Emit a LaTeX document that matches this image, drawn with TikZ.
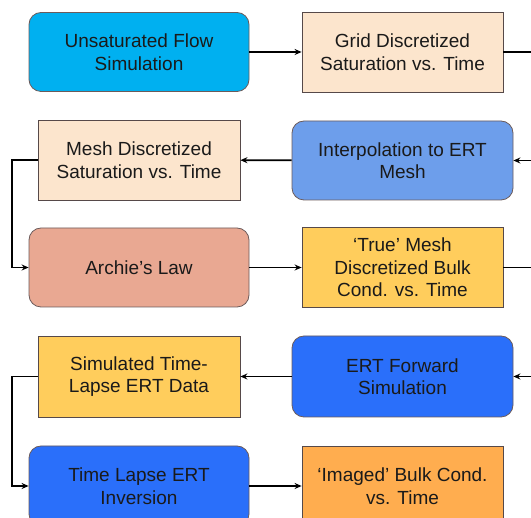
\documentclass[tikz,border=0pt]{standalone}
\usepackage{fontspec}
\setmainfont{Liberation Sans}
\usepackage{xcolor}
\usepackage{tikz}
\usetikzlibrary{arrows.meta,positioning,calc}
\definecolor{edge}{HTML}{6B5B5B}
\definecolor{ink}{HTML}{1A1A1A}
\definecolor{simcyan}{HTML}{00B0F0}
\definecolor{peach}{HTML}{FCE5CD}
\definecolor{cornflower}{HTML}{6D9EEB}
\definecolor{salmon}{HTML}{E9A892}
\definecolor{gold}{HTML}{FFCD5C}
\definecolor{ertblue}{HTML}{2A6FFA}
\definecolor{amber}{HTML}{FFAD4F}

\begin{document}
\begin{tikzpicture}[x=1pt,y=-1pt,
    font=\fontsize{19}{22.5}\selectfont,
    roundbox/.style={draw=edge,line width=0.8pt,rounded corners=12pt,align=center,text=ink,
                     minimum width=220pt,minimum height=79pt,inner sep=0pt},
    sqbox/.style={draw=edge!80!black,line width=0.8pt,align=center,text=ink,
                  minimum width=201pt,minimum height=80pt,inner sep=0pt},
    link/.style={line width=1.8pt,-{Stealth[length=7pt,width=6pt]}}]
  \useasboundingbox (0,0) rectangle (531,518);
  % boxes
  \node[roundbox,fill=simcyan] (flow) at (139,52) {Unsaturated Flow\\Simulation};
  \node[sqbox,fill=peach] (grid) at (402.5,52) {Grid Discretized\\Saturation vs. Time};
  \node[sqbox,fill=peach,minimum width=202pt] (mesh) at (139,160) {Mesh Discretized\\Saturation vs. Time};
  \node[roundbox,fill=cornflower,minimum width=221pt] (interp) at (402.5,160.5) {Interpolation to ERT\\Mesh};
  \node[roundbox,fill=salmon] (archie) at (139,267.5) {Archie's Law};
  \node[sqbox,fill=gold] (truecond) at (402.5,267.5) {`True' Mesh\\Discretized Bulk\\Cond. vs. Time};
  \node[sqbox,fill=gold,minimum width=202pt,minimum height=81pt] (simdata) at (139,376.5) {Simulated Time-\\Lapse ERT Data};
  \node[roundbox,fill=ertblue,minimum width=221pt,minimum height=81pt] (fwd) at (402.5,376.5) {ERT Forward\\Simulation};
  \node[roundbox,fill=ertblue,minimum height=80pt] (inv) at (139,486) {Time Lapse ERT\\Inversion};
  \node[sqbox,fill=amber] (imaged) at (402.5,486) {`Imaged' Bulk Cond.\\vs. Time};
  % connectors
  \draw[link] (flow) -- (grid);
  \draw[link] (grid.east) -- ++(40,0) |- (interp.east);
  \draw[link] (interp) -- (mesh);
  \draw[link] (mesh.west) -- ++(-26,0) |- (archie.west);
  \draw[link,line width=1.3pt] (archie) -- (truecond);
  \draw[link,line width=1.3pt] (truecond.east) -- ++(40,0) |- (fwd.east);
  \draw[link] (fwd) -- (simdata);
  \draw[link] (simdata.west) -- ++(-26,0) |- (inv.west);
  \draw[link] (inv) -- (imaged);
\end{tikzpicture}
\end{document}
